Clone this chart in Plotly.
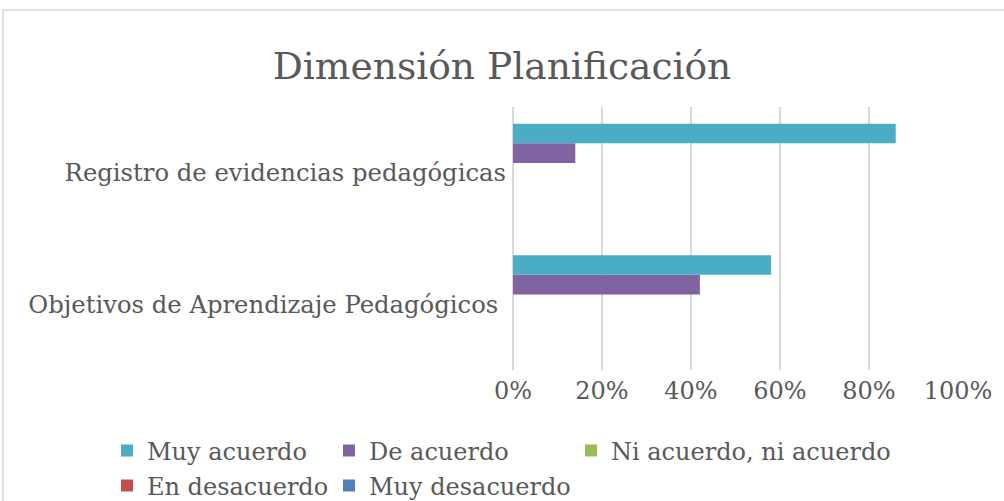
import plotly.graph_objects as go

categories = ["Objetivos de Aprendizaje Pedagógicos\u00a0", "Registro de evidencias pedagógicas"]
series_names = ["Muy acuerdo", "De acuerdo", "Ni acuerdo, ni acuerdo", "En desacuerdo", "Muy desacuerdo"]
muy_acuerdo = [0.58, 0.86]
de_acuerdo = [0.42, 0.14]
ni_acuerdo = [0.0, 0.0]
en_desacuerdo = [0.0, 0.0]
muy_desacuerdo = [0.0, 0.0]
series_values = [muy_acuerdo, de_acuerdo, ni_acuerdo, en_desacuerdo, muy_desacuerdo]
colors = ["#4BACC6", "#8064A2", "#9BBB59", "#C0504D", "#4F81BD"]
x_ticks = [0, 0.2, 0.4, 0.6, 0.8, 1.0]
x_ticklabels = ["0%", "20%", "40%", "60%", "80%", "100%"]

W, H = 1004, 501
L, R, T, B = 513, 958, 107, 370
FONT = "DejaVu Serif"
GRAY = "#595959"

# legend entry positions (pixels, left edge of legend box, vertical centre)
legend_pos = [(107, 451), (329, 451), (571, 451), (107, 486), (329, 486)]

fig = go.Figure()
# add in reverse so that "Muy acuerdo" is the top bar of each group
for i in reversed(range(5)):
    lname = "legend" if i == 0 else f"legend{i+1}"
    fig.add_trace(go.Bar(
        y=categories, x=series_values[i], name=series_names[i], orientation="h",
        marker=dict(color=colors[i], line=dict(width=0)),
        legend=lname, hoverinfo="x+name",
    ))

layout_legends = {}
for i in range(5):
    lname = "legend" if i == 0 else f"legend{i+1}"
    px, py = legend_pos[i]
    layout_legends[lname] = dict(
        x=px / W, y=1 - py / H, xref="container", yref="container",
        xanchor="left", yanchor="middle", orientation="h",
        font=dict(family=FONT, size=24, color=GRAY),
        bgcolor="rgba(0,0,0,0)", itemwidth=30, tracegroupgap=0,
    )

fig.update_layout(
    width=W, height=H,
    margin=dict(l=L, r=W - R, t=T, b=H - B, pad=0),
    paper_bgcolor="white", plot_bgcolor="white",
    barmode="group", bargap=0.255, bargroupgap=0,
    title=dict(text="Dimensión Planificación", x=0.5, xref="container", xanchor="center",
               y=1 - 66 / H, yref="container", yanchor="middle",
               font=dict(family=FONT, size=37.6, color=GRAY)),
    xaxis=dict(range=[0, 1.0], tickvals=x_ticks, ticktext=x_ticklabels,
               showgrid=True, gridcolor="#D9D9D9", gridwidth=1.5,
               zeroline=True, zerolinecolor="#D9D9D9", zerolinewidth=1.5,
               showline=False, ticks="",
               tickfont=dict(family=FONT, size=24, color=GRAY),
               ticklabelstandoff=4, fixedrange=True, automargin=False),
    yaxis=dict(showgrid=False, zeroline=False, showline=False, ticks="",
               tickfont=dict(family=FONT, size=24.3, color=GRAY),
               ticklabelstandoff=6, fixedrange=True, automargin=False),
    showlegend=True,
    **layout_legends,
)

# chart-area border (light gray), partly outside the window like the reference
pw, ph = R - L, B - T
fig.add_shape(type="rect", xref="paper", yref="paper",
              x0=(3 - L) / pw, x1=(W + 20 - L) / pw,
              y0=1 + (T - 10) / ph,
              y1=(B - (H + 20)) / ph,
              line=dict(color="#D9D9D9", width=1.5), fillcolor="rgba(0,0,0,0)", layer="below")

fig.write_html("out.html", config={"displayModeBar": False},
               post_script="document.body.style.margin='0';")
